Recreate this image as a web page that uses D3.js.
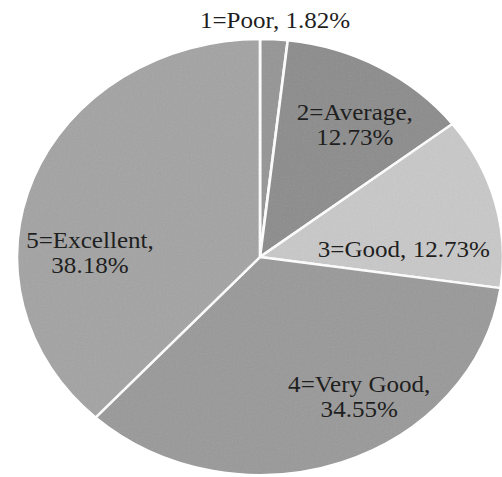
<!DOCTYPE html>
<html>
<head>
<meta charset="utf-8">
<script src="https://cdn.jsdelivr.net/npm/d3@7"></script>
<style>
  html, body { margin: 0; padding: 0; background: #ffffff; }
  svg { display: block; }
  text.lbl { font-family: "Liberation Serif", "Tinos", "Noto Serif", "DejaVu Serif", "FreeSerif", "Nimbus Roman", "Times New Roman", Times, serif; }
</style>
</head>
<body>
<div id="chart"></div>
<script>
// ---- data ----
const categories = ["1=Poor", "2=Average", "3=Good", "4=Very Good", "5=Excellent"];
const values = [1.82, 12.73, 12.73, 34.55, 38.18];
const valueLabels = ["1.82%", "12.73%", "12.73%", "34.55%", "38.18%"];

// ---- layout ----
const W = 502, H = 477;
const cx = 260, cy = 257;
const R = 218;          // vertical radius
const sx = 1.115;       // horizontal stretch of the picture
const colors = ["#959595", "#8c8c8c", "#c8c8c8", "#999999", "#a3a3a3"];

// label placement (pre-stretch offsets from the centre, first baseline) and line breaks
const labelLayout = [
  { dx: 13.5, dy: -229, lines: (c, v) => [c + ", " + v] },
  { dx: 85,   dy: -137, lines: (c, v) => [c + ",", v] },
  { dx: 129,  dy: 0,    lines: (c, v) => [c + ", " + v] },
  { dx: 89,   dy: 135,  lines: (c, v) => [c + ",", v] },
  { dx: -152.5, dy: -9, lines: (c, v) => [c + ",", v] }
];

const data = categories.map((c, i) => ({ cat: c, value: values[i], label: valueLabels[i], idx: i }));

const svg = d3.select("#chart").append("svg")
  .attr("width", W).attr("height", H);

const defs = svg.append("defs");
const filt = defs.append("filter").attr("id", "grain")
  .attr("filterUnits", "userSpaceOnUse")
  .attr("x", -R).attr("y", -R).attr("width", 2 * R).attr("height", 2 * R);
filt.append("feTurbulence").attr("type", "fractalNoise")
  .attr("baseFrequency", 0.6).attr("numOctaves", 2).attr("seed", 3).attr("result", "noise");
filt.append("feColorMatrix").attr("in", "noise").attr("type", "saturate").attr("values", 0).attr("result", "g");
filt.append("feComposite").attr("in", "g").attr("in2", "SourceGraphic").attr("operator", "in");

const g = svg.append("g")
  .attr("transform", `translate(${cx},${cy}) scale(${sx},1)`);

const pie = d3.pie().value(d => d.value).sort(null);
const arc = d3.arc().innerRadius(0).outerRadius(R);
const arcs = pie(data);

g.selectAll("path.slice")
  .data(arcs)
  .join("path")
  .attr("class", "slice")
  .attr("d", arc)
  .attr("fill", d => colors[d.data.idx])
  .attr("stroke", "#ffffff")
  .attr("stroke-width", 2.4)
  .attr("stroke-linejoin", "round");

// subtle photocopy grain over the pie
g.append("circle")
  .attr("r", R - 1.5)
  .attr("fill", "#808080")
  .attr("opacity", 0.12)
  .attr("filter", "url(#grain)")
  .style("pointer-events", "none");

// labels
const fs = 22.5, lh = 25;
const labels = g.selectAll("text.lbl")
  .data(arcs)
  .join("text")
  .attr("class", "lbl")
  .attr("text-anchor", "middle")
  .style("font-size", fs + "px")
  .attr("fill", "#1f1f1f")
  .attr("transform", d => {
    const L = labelLayout[d.data.idx];
    return `translate(${L.dx},${L.dy})`;
  });

labels.each(function(d) {
  const L = labelLayout[d.data.idx];
  const lines = L.lines(d.data.cat, d.data.label);
  d3.select(this).selectAll("tspan")
    .data(lines)
    .join("tspan")
    .attr("x", 0)
    .attr("y", (t, i) => i * lh)
    .text(t => t);
});
</script>
</body>
</html>
